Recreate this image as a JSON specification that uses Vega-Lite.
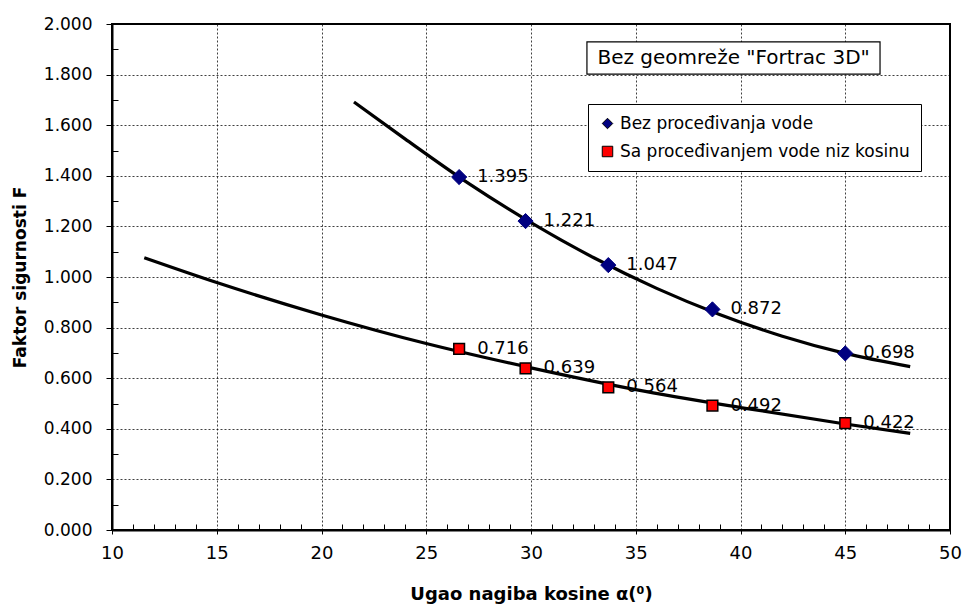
{
  "$schema": "https://vega.github.io/schema/vega-lite/v6.json",
  "autosize": "none",
  "width": 838,
  "height": 506,
  "padding": {"left": 112, "top": 24, "right": 15, "bottom": 75},
  "background": "white",
  "config": {
    "font": "DejaVu Sans",
    "view": {"stroke": "#000", "strokeWidth": 2},
    "axis": {"labelFont": "DejaVu Sans", "titleFont": "DejaVu Sans"},
    "legend": {
      "title": null,
      "orient": "none",
      "legendX": 476,
      "legendY": 80,
      "strokeColor": "#000",
      "fillColor": "#fff",
      "padding": 11,
      "labelFontSize": 17,
      "labelColor": "#000",
      "labelFont": "DejaVu Sans",
      "labelLimit": 500,
      "symbolSize": 110,
      "symbolStrokeColor": "#000",
      "symbolStrokeWidth": 1,
      "rowPadding": 10,
      "labelOffset": 4
    }
  },
  "datasets": {
    "pts": [
      {"series": "Bez proceđivanja vode", "alpha": 26.57, "F": 1.395},
      {"series": "Bez proceđivanja vode", "alpha": 29.74, "F": 1.221},
      {"series": "Bez proceđivanja vode", "alpha": 33.69, "F": 1.047},
      {"series": "Bez proceđivanja vode", "alpha": 38.66, "F": 0.872},
      {"series": "Bez proceđivanja vode", "alpha": 45.0, "F": 0.698},
      {"series": "Sa proceđivanjem vode niz kosinu", "alpha": 26.57, "F": 0.716},
      {"series": "Sa proceđivanjem vode niz kosinu", "alpha": 29.74, "F": 0.639},
      {"series": "Sa proceđivanjem vode niz kosinu", "alpha": 33.69, "F": 0.564},
      {"series": "Sa proceđivanjem vode niz kosinu", "alpha": 38.66, "F": 0.492},
      {"series": "Sa proceđivanjem vode niz kosinu", "alpha": 45.0, "F": 0.422}
    ],
    "trend": [
      {"curve": "upper", "alpha": 21.55, "F": 1.692},
      {"curve": "upper", "alpha": 24.0, "F": 1.545},
      {"curve": "upper", "alpha": 27.0, "F": 1.371},
      {"curve": "upper", "alpha": 30.0, "F": 1.215},
      {"curve": "upper", "alpha": 33.0, "F": 1.076},
      {"curve": "upper", "alpha": 36.0, "F": 0.955},
      {"curve": "upper", "alpha": 39.0, "F": 0.852},
      {"curve": "upper", "alpha": 42.0, "F": 0.766},
      {"curve": "upper", "alpha": 45.0, "F": 0.698},
      {"curve": "upper", "alpha": 48.1, "F": 0.646},
      {"curve": "lower", "alpha": 11.54, "F": 1.076},
      {"curve": "lower", "alpha": 15.0, "F": 0.978},
      {"curve": "lower", "alpha": 20.0, "F": 0.850},
      {"curve": "lower", "alpha": 25.0, "F": 0.737},
      {"curve": "lower", "alpha": 30.0, "F": 0.641},
      {"curve": "lower", "alpha": 35.0, "F": 0.555},
      {"curve": "lower", "alpha": 40.0, "F": 0.484},
      {"curve": "lower", "alpha": 45.0, "F": 0.419},
      {"curve": "lower", "alpha": 48.1, "F": 0.382}
    ],
    "note": [
      {"alpha": 32.67, "alpha2": 46.66, "F": 1.802, "F2": 1.929, "xc": 39.67, "yc": 1.866, "label": "Bez geomreže \"Fortrac 3D\""}
    ]
  },
  "encoding": {
    "x": {
      "field": "alpha", "type": "quantitative",
      "scale": {"domain": [10, 50], "nice": false, "zero": false},
      "axis": {
        "values": [10,11,12,13,14,15,16,17,18,19,20,21,22,23,24,25,26,27,28,29,30,31,32,33,34,35,36,37,38,39,40,41,42,43,44,45,46,47,48,49,50],
        "labelExpr": "datum.value % 5 == 0 ? format(datum.value, 'd') : ''",
        "labelOverlap": false,
        "tickSize": {"condition": {"test": "datum.value % 5 == 0", "value": 4}, "value": -6},
        "tickColor": "#000",
        "tickWidth": 1,
        "domainColor": "#000",
        "domainWidth": 2,
        "grid": true,
        "gridColor": "#000",
        "gridDash": [2, 2],
        "gridWidth": 1,
        "gridOpacity": {"condition": {"test": "datum.value % 5 == 0 && datum.value > 10 && datum.value < 50", "value": 0.75}, "value": 0},
        "labelFontSize": 18,
        "labelColor": "#000",
        "labelPadding": 10,
        "labelFlush": false,
        "title": "Ugao nagiba kosine α(⁰)",
        "titleFontSize": 18,
        "titleFontWeight": "bold",
        "titleColor": "#000",
        "titlePadding": 23
      }
    },
    "y": {
      "field": "F", "type": "quantitative",
      "scale": {"domain": [0, 2], "nice": false},
      "axis": {
        "values": [0,0.1,0.2,0.3,0.4,0.5,0.6,0.7,0.8,0.9,1.0,1.1,1.2,1.3,1.4,1.5,1.6,1.7,1.8,1.9,2.0],
        "labelExpr": "round(datum.value*10) % 2 == 0 ? format(datum.value, '.3f') : ''",
        "labelOverlap": false,
        "tickSize": {"condition": {"test": "round(datum.value*10) % 2 == 0", "value": 6}, "value": -6},
        "tickColor": "#000",
        "tickWidth": 1,
        "domainColor": "#000",
        "domainWidth": 2,
        "grid": true,
        "gridColor": "#000",
        "gridDash": [2, 2],
        "gridWidth": 1,
        "gridOpacity": {"condition": {"test": "round(datum.value*10) % 2 == 0 && datum.value > 0.05 && datum.value < 1.95", "value": 0.75}, "value": 0},
        "labelFontSize": 17,
        "labelColor": "#000",
        "labelPadding": 14,
        "labelFlush": false,
        "title": "Faktor sigurnosti  F",
        "titleFontSize": 17,
        "titleFontWeight": "bold",
        "titleColor": "#000",
        "titlePadding": 14
      }
    }
  },
  "layer": [
    {
      "data": {"name": "trend"},
      "mark": {"type": "line", "color": "#000", "strokeWidth": 3.2, "interpolate": "monotone"},
      "encoding": {
        "detail": {"field": "curve"}
      }
    },
    {
      "data": {"name": "pts"},
      "transform": [{"filter": "datum.series == 'Bez proceđivanja vode'"}],
      "mark": {"type": "point", "filled": true, "opacity": 1, "size": 230, "stroke": "#000080", "strokeWidth": 1},
      "encoding": {
        "shape": {
          "field": "series", "type": "nominal",
          "scale": {"domain": ["Bez proceđivanja vode", "Sa proceđivanjem vode niz kosinu"], "range": ["diamond", "square"]}
        },
        "color": {
          "field": "series", "type": "nominal",
          "scale": {"domain": ["Bez proceđivanja vode", "Sa proceđivanjem vode niz kosinu"], "range": ["#000080", "#FF0000"]}
        }
      }
    },
    {
      "data": {"name": "pts"},
      "transform": [{"filter": "datum.series != 'Bez proceđivanja vode'"}],
      "mark": {"type": "point", "filled": true, "opacity": 1, "size": 115, "stroke": "#000", "strokeWidth": 1.5},
      "encoding": {
        "shape": {
          "field": "series", "type": "nominal",
          "scale": {"domain": ["Bez proceđivanja vode", "Sa proceđivanjem vode niz kosinu"], "range": ["diamond", "square"]}
        },
        "color": {
          "field": "series", "type": "nominal",
          "scale": {"domain": ["Bez proceđivanja vode", "Sa proceđivanjem vode niz kosinu"], "range": ["#000080", "#FF0000"]}
        }
      }
    },
    {
      "data": {"name": "pts"},
      "mark": {"type": "text", "align": "left", "baseline": "middle", "dx": 18, "fontSize": 18, "color": "#000", "font": "DejaVu Sans"},
      "encoding": {
        "text": {"field": "F", "type": "quantitative", "format": ".3f"}
      }
    },
    {
      "data": {"name": "note"},
      "mark": {"type": "rect", "fill": "#fff", "stroke": "#000", "strokeWidth": 1.2},
      "encoding": {
        "x2": {"field": "alpha2"},
        "y2": {"field": "F2"}
      }
    },
    {
      "data": {"name": "note"},
      "mark": {"type": "text", "align": "center", "baseline": "middle", "fontSize": 20, "color": "#000", "font": "DejaVu Sans"},
      "encoding": {
        "x": {"field": "xc", "type": "quantitative"},
        "y": {"field": "yc", "type": "quantitative"},
        "text": {"field": "label"}
      }
    }
  ]
}
